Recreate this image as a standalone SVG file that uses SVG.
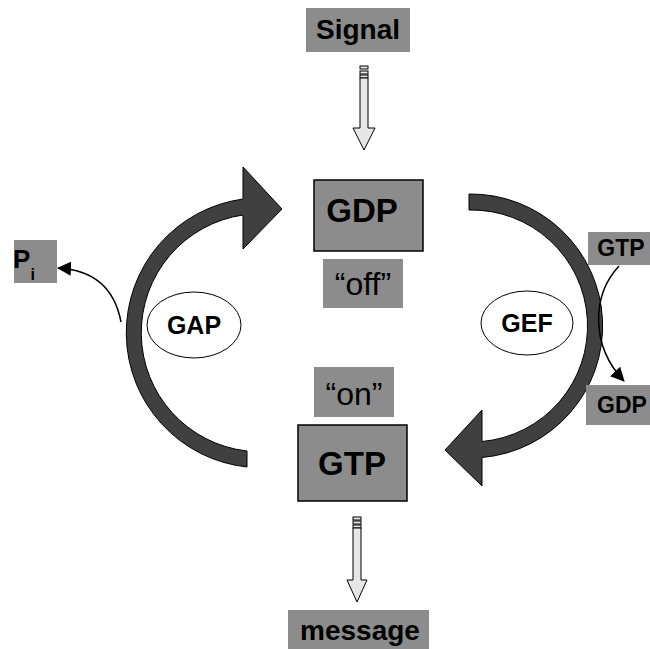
<svg xmlns="http://www.w3.org/2000/svg" width="650" height="649" viewBox="0 0 650 649">
<style>
.lbl{fill:#8c8c8c}
.box{fill:#8c8c8c;stroke:#000;stroke-width:1.5}
.b{font-family:"Liberation Sans",Arial,sans-serif;font-weight:bold;fill:#000;text-anchor:middle}
.r{font-family:"Liberation Sans",Arial,sans-serif;fill:#000;text-anchor:middle}
.arc{fill:#404040;stroke:#000;stroke-width:1}
.blk{fill:#e6e6e6;stroke:#000;stroke-width:1}
.ell{fill:#fff;stroke:#000;stroke-width:1}
.thin{fill:none;stroke:#000;stroke-width:1.5}
</style>
<defs>
<marker id="ah" markerUnits="userSpaceOnUse" markerWidth="14" markerHeight="14" refX="13" refY="7" orient="auto">
<path d="M0,0 L14,7 L0,14 z" fill="#000"/>
</marker>
</defs>
<g id="connectors">
<path id="gap-arc" class="arc" d="M 247 467 A 135 135 0 0 1 243 199 L 243 167 L 282 209 L 243 249 L 243 215 A 119 119 0 0 0 247 451 Z"/>
<path id="gef-arc" class="arc" d="M 469 194 A 132 132 0 0 1 482 457.5 L 482 486 L 445 450 L 482 410 L 482 441.5 A 116 116 0 0 0 469 210 Z"/>
<path class="thin" d="M 619 266 C 592 295, 590 345, 624 381" marker-end="url(#ah)"/>
<path class="thin" d="M 121 322 C 115 290, 95 270, 58 268" marker-end="url(#ah)"/>
<g id="signal-arrow">
<rect class="blk" x="360" y="66" width="8" height="3"/>
<rect class="blk" x="360" y="71" width="8" height="3"/>
<rect class="blk" x="360" y="75" width="8" height="3" fill="#999"/>
<path class="blk" d="M 360 78 L 368 78 L 368 128 L 375 128 L 364 150 L 353 128 L 360 128 Z"/>
</g>
<g id="message-arrow">
<rect class="blk" x="353" y="517" width="8" height="3"/>
<rect class="blk" x="353" y="521" width="8" height="3"/>
<rect class="blk" x="353" y="525" width="8" height="3"/>
<path class="blk" d="M 353 528 L 361 528 L 361 580 L 367 580 L 357 602 L 347 580 L 353 580 Z"/>
</g>
</g>
<g id="signal">
<rect class="lbl" x="306" y="8" width="104" height="44"/>
<text class="b" x="358" y="39" font-size="28">Signal</text>
</g>
<g id="gdp">
<rect class="box" x="314" y="180" width="109" height="71"/>
<text class="b" x="362" y="222" font-size="33">GDP</text>
</g>
<g id="off">
<rect class="lbl" x="323" y="259" width="80" height="49"/>
<text class="r" x="363" y="295" font-size="32">“off”</text>
</g>
<g id="on">
<rect class="lbl" x="314" y="367" width="80" height="50"/>
<text class="r" x="354" y="405" font-size="32">“on”</text>
</g>
<g id="gtp">
<rect class="box" x="298" y="425" width="109" height="76"/>
<text class="b" x="352" y="475" font-size="33">GTP</text>
</g>
<g id="message">
<rect class="lbl" x="288" y="610" width="141" height="39"/>
<text class="b" x="360" y="640" font-size="28">message</text>
</g>
<g id="gap">
<ellipse class="ell" cx="194" cy="325" rx="47" ry="33"/>
<text class="b" x="194" y="334" font-size="25">GAP</text>
</g>
<g id="gef">
<ellipse class="ell" cx="527" cy="323" rx="46" ry="32"/>
<text class="b" x="527" y="332" font-size="25">GEF</text>
</g>
<g id="gtp-small">
<rect class="lbl" x="588" y="232" width="62" height="33"/>
<text class="b" x="621" y="256" font-size="23">GTP</text>
</g>
<g id="gdp-small">
<rect class="lbl" x="586" y="385" width="64" height="40"/>
<text class="b" x="622" y="413" font-size="23">GDP</text>
</g>
<g id="pi">
<rect class="lbl" x="14" y="240" width="43" height="43"/>
<text class="b" x="24" y="268" font-size="26" text-anchor="start">P<tspan font-size="16" dy="12">i</tspan></text>
</g>
</svg>
